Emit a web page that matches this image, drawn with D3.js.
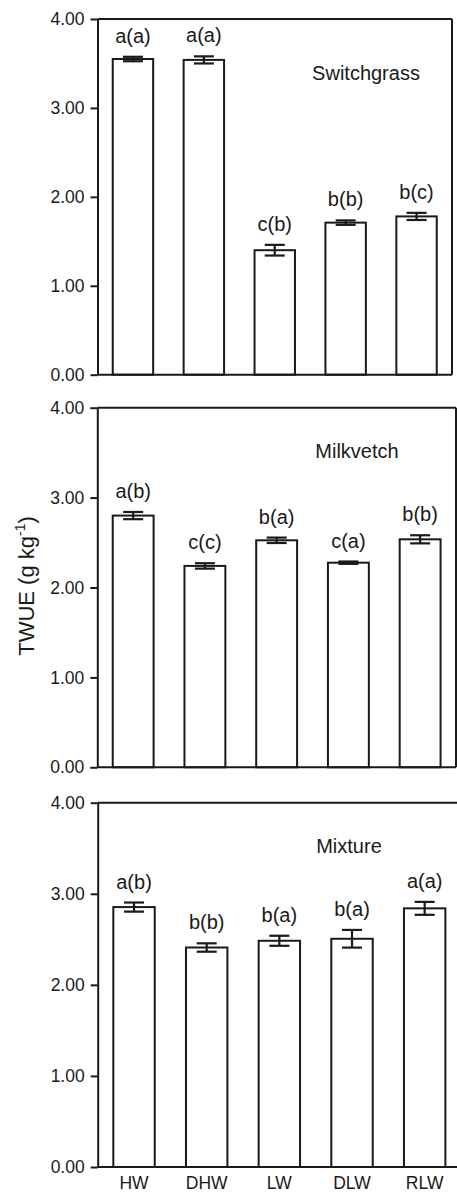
<!DOCTYPE html>
<html>
<head>
<meta charset="utf-8">
<script src="https://cdn.jsdelivr.net/npm/d3@7"></script>
<style>
  body { margin: 0; background: #fff; }
  text { font-family: "Liberation Sans", Arial, sans-serif; fill: #1a1a1a; }
</style>
</head>
<body>
<div id="chart"></div>
<script>
// data
const categories = ["HW", "DHW", "LW", "DLW", "RLW"];
const yTicks = [0, 1, 2, 3, 4];

const switchgrassMean = [3.55, 3.54, 1.40, 1.71, 1.78];
const switchgrassErr = [0.025, 0.04, 0.06, 0.025, 0.04];
const switchgrassLetters = ["a(a)", "a(a)", "c(b)", "b(b)", "b(c)"];

const milkvetchMean = [2.80, 2.24, 2.525, 2.276, 2.536];
const milkvetchErr = [0.04, 0.03, 0.03, 0.013, 0.045];
const milkvetchLetters = ["a(b)", "c(c)", "b(a)", "c(a)", "b(b)"];

const mixtureMean = [2.854, 2.41, 2.484, 2.506, 2.84];
const mixtureErr = [0.05, 0.046, 0.055, 0.097, 0.071];
const mixtureLetters = ["a(b)", "b(b)", "b(a)", "b(a)", "a(a)"];

const W = 457, H = 1192;

const svg = d3.select("#chart")
  .append("svg")
  .attr("width", W)
  .attr("height", H);

// panel boxes (pixel layout)
const panels = [
  {name: "Switchgrass", mean: switchgrassMean, err: switchgrassErr, letters: switchgrassLetters,
   left: 97.5, right: 452, top: 19, bottom: 374.7, titleX: 366, titleY: 80, rightBorder: true, xLabels: false},
  {name: "Milkvetch", mean: milkvetchMean, err: milkvetchErr, letters: milkvetchLetters,
   left: 97.3, right: 456, top: 407.7, bottom: 767.3, titleX: 357, titleY: 457.7, rightBorder: true, xLabels: false},
  {name: "Mixture", mean: mixtureMean, err: mixtureErr, letters: mixtureLetters,
   left: 97.7, right: 461, top: 802.7, bottom: 1167, titleX: 349, titleY: 852.7, rightBorder: false, xLabels: true}
];

panels.forEach(function(p) {
  const g = svg.append("g");

  const x = d3.scaleBand()
    .domain(categories)
    .range([p.left, p.right])
    .paddingInner(0.43)
    .paddingOuter(0.215);

  const y = d3.scaleLinear()
    .domain([0, 4])
    .range([p.bottom, p.top]);

  const data = categories.map(function(c, i) {
    return {cat: c, mean: p.mean[i], err: p.err[i], letter: p.letters[i]};
  });

  // frame: top, right, bottom
  g.append("line")
    .attr("x1", p.left).attr("x2", p.right)
    .attr("y1", p.top).attr("y2", p.top)
    .attr("stroke", "#1a1a1a").attr("stroke-width", 2);
  if (p.rightBorder) {
    g.append("line")
      .attr("x1", p.right).attr("x2", p.right)
      .attr("y1", p.top).attr("y2", p.bottom)
      .attr("stroke", "#1a1a1a").attr("stroke-width", 2);
  }

  // bars
  g.selectAll("rect.bar")
    .data(data)
    .join("rect")
    .attr("class", "bar")
    .attr("x", d => x(d.cat))
    .attr("y", d => y(d.mean))
    .attr("width", x.bandwidth())
    .attr("height", d => y(0) - y(d.mean))
    .attr("fill", "#fff")
    .attr("stroke", "#1a1a1a")
    .attr("stroke-width", 2);

  // error bars
  const cap = 10;
  const eb = g.selectAll("g.err")
    .data(data)
    .join("g")
    .attr("class", "err")
    .attr("stroke", "#1a1a1a")
    .attr("stroke-width", 2.2);
  eb.append("line")
    .attr("x1", d => x(d.cat) + x.bandwidth() / 2)
    .attr("x2", d => x(d.cat) + x.bandwidth() / 2)
    .attr("y1", d => y(d.mean - d.err))
    .attr("y2", d => y(d.mean + d.err));
  eb.append("line")
    .attr("x1", d => x(d.cat) + x.bandwidth() / 2 - cap)
    .attr("x2", d => x(d.cat) + x.bandwidth() / 2 + cap)
    .attr("y1", d => y(d.mean + d.err))
    .attr("y2", d => y(d.mean + d.err));
  eb.append("line")
    .attr("x1", d => x(d.cat) + x.bandwidth() / 2 - cap)
    .attr("x2", d => x(d.cat) + x.bandwidth() / 2 + cap)
    .attr("y1", d => y(d.mean - d.err))
    .attr("y2", d => y(d.mean - d.err));

  // significance letters
  g.selectAll("text.letter")
    .data(data)
    .join("text")
    .attr("class", "letter")
    .attr("x", d => x(d.cat) + x.bandwidth() / 2)
    .attr("y", d => y(d.mean + d.err) - 14)
    .attr("text-anchor", "middle")
    .style("font-size", "20px")
    .text(d => d.letter);

  // y axis
  const yAxis = g.append("g")
    .attr("transform", `translate(${p.left},0)`)
    .call(d3.axisLeft(y)
      .tickValues(yTicks)
      .tickFormat(d3.format(".2f"))
      .tickSize(7)
      .tickSizeOuter(0)
      .tickPadding(6));
  yAxis.select(".domain").attr("stroke", "#1a1a1a").attr("stroke-width", 2);
  yAxis.selectAll(".tick line").attr("stroke", "#1a1a1a").attr("stroke-width", 2);
  yAxis.selectAll(".tick text")
    .style("font-size", "17.5px")
    .style("font-family", "'Liberation Sans', Arial, sans-serif")
    .attr("fill", "#1a1a1a");

  // bottom axis line
  g.append("line")
    .attr("x1", p.left).attr("x2", p.right)
    .attr("y1", p.bottom).attr("y2", p.bottom)
    .attr("stroke", "#1a1a1a").attr("stroke-width", 2);

  if (p.xLabels) {
    g.selectAll("text.xlab")
      .data(categories)
      .join("text")
      .attr("class", "xlab")
      .attr("x", d => x(d) + x.bandwidth() / 2)
      .attr("y", p.bottom + 22)
      .attr("text-anchor", "middle")
      .style("font-size", "17.5px")
      .text(d => d);
  }

  // panel title
  g.append("text")
    .attr("x", p.titleX)
    .attr("y", p.titleY)
    .attr("text-anchor", "middle")
    .style("font-size", "20px")
    .text(p.name);
});

// y axis title
const yTitle = svg.append("text")
  .attr("transform", "translate(34,586) rotate(-90)")
  .attr("text-anchor", "middle")
  .style("font-size", "22px");
yTitle.append("tspan").text("TWUE (g kg");
yTitle.append("tspan").attr("dy", -9).style("font-size", "14px").text("-1");
yTitle.append("tspan").attr("dy", 9).text(")");
</script>
</body>
</html>
